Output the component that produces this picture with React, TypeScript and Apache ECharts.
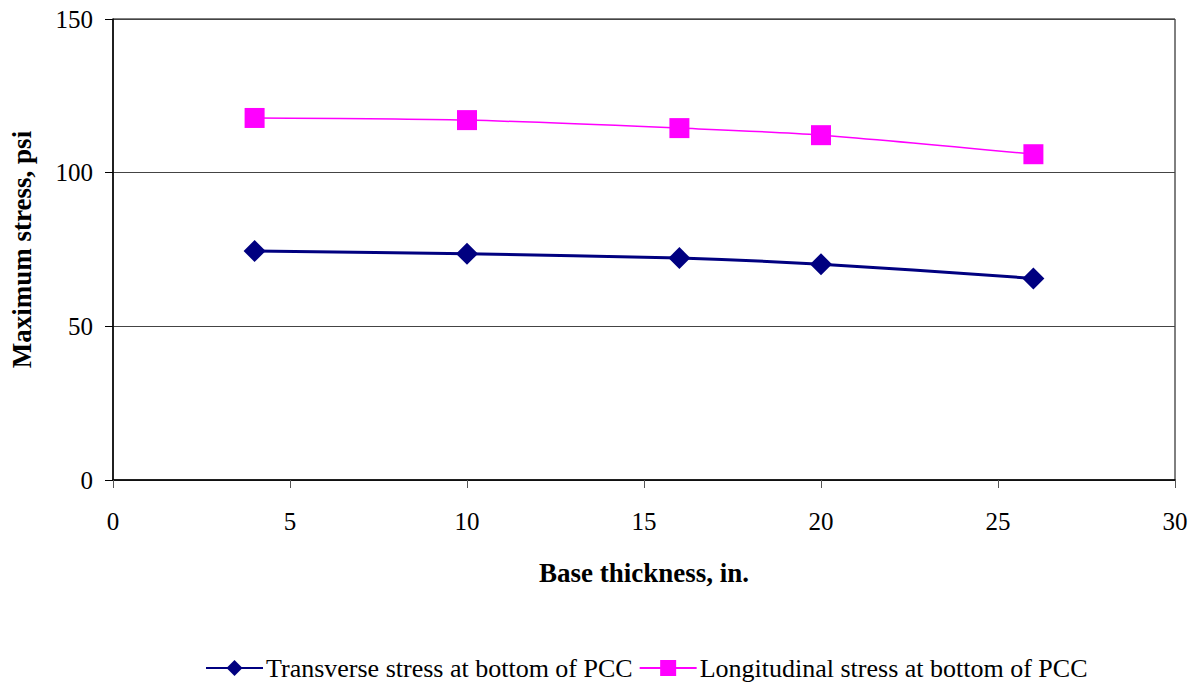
import React, { useEffect, useRef } from "react";
import * as echarts from "echarts";

const baseThickness = [4, 10, 16, 20, 26];
const transverseStress = [74.5, 73.6, 72.2, 70.2, 65.6];
const longitudinalStress = [117.8, 117.1, 114.5, 112.2, 106.0];
const seriesNames = [
  "Transverse stress at bottom of PCC",
  "Longitudinal stress at bottom of PCC",
];

const FONT = "'Liberation Serif', 'Times New Roman', serif";

export default function App() {
  const ref = useRef<HTMLDivElement>(null);
  useEffect(() => {
    if (!ref.current) return;
    const chart = echarts.init(ref.current, undefined, { renderer: "svg" });
    const pair = (ys: number[]) => baseThickness.map((x, i) => [x, ys[i]]);
    chart.setOption({
      animation: false,
      backgroundColor: "#ffffff",
      textStyle: { fontFamily: FONT, color: "#000" },
      grid: {
        left: 113,
        top: 19,
        width: 1062,
        height: 461,
        show: true,
        borderColor: "#000",
        borderWidth: 1,
        backgroundColor: "transparent",
      },
      legend: {
        left: 200,
        top: 650,
        itemWidth: 57,
        itemHeight: 20,
        itemGap: 6,
        textStyle: { fontFamily: FONT, fontSize: 26, color: "#000", padding: [0, 0, 0, -2] },
        data: seriesNames,
      },
      xAxis: {
        type: "value",
        min: 0,
        max: 30,
        interval: 5,
        name: "Base thickness, in.",
        nameLocation: "middle",
        nameGap: 79,
        nameTextStyle: { fontFamily: FONT, fontSize: 27, fontWeight: "bold", color: "#000" },
        axisLine: { show: true, lineStyle: { color: "#000", width: 1.5 } },
        axisTick: { show: true, length: 8, inside: false, lineStyle: { color: "#555", width: 1 } },
        axisLabel: { fontFamily: FONT, fontSize: 25, color: "#000", margin: 29 },
        splitLine: { show: false },
      },
      yAxis: {
        type: "value",
        min: 0,
        max: 150,
        interval: 50,
        name: "Maximum stress, psi",
        nameLocation: "middle",
        nameGap: 78,
        nameTextStyle: { fontFamily: FONT, fontSize: 27, fontWeight: "bold", color: "#000" },
        axisLine: { show: true, lineStyle: { color: "#000", width: 1.5 } },
        axisTick: { show: true, length: 8, inside: false, lineStyle: { color: "#000", width: 1 } },
        axisLabel: { fontFamily: FONT, fontSize: 25, color: "#000", margin: 20 },
        splitLine: { show: true, lineStyle: { color: "#444", width: 1 } },
      },
      series: [
        {
          name: seriesNames[0],
          type: "line",
          data: pair(transverseStress),
          smooth: 0.3,
          symbol: "diamond",
          symbolSize: 22,
          itemStyle: { color: "#000080" },
          lineStyle: { color: "#000080", width: 3 },
        },
        {
          name: seriesNames[1],
          type: "line",
          data: pair(longitudinalStress),
          smooth: 0.3,
          symbol: "rect",
          symbolSize: 20,
          itemStyle: { color: "#ff00ff" },
          lineStyle: { color: "#ff00ff", width: 1.5 },
        },
      ],
    });
    return () => chart.dispose();
  }, []);
  return (
    <div
      ref={ref}
      style={{ position: "absolute", left: 0, top: 0, width: 1197, height: 684 }}
    />
  );
}
